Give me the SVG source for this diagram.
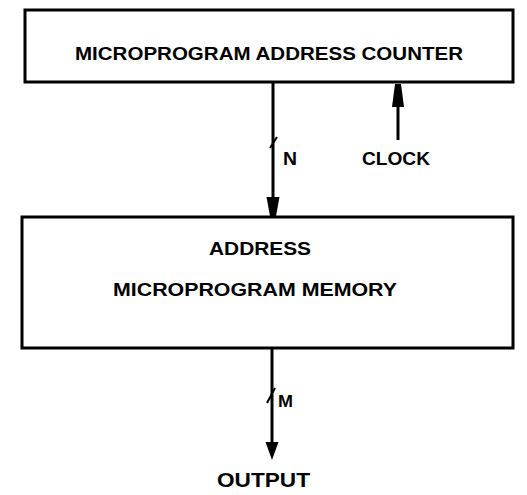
<svg xmlns="http://www.w3.org/2000/svg" width="527" height="495" viewBox="0 0 527 495">
  <style>
    .box { fill: #fff; stroke: #000; stroke-width: 3; }
    .wire { stroke: #000; stroke-width: 3; fill: none; }
    .tick { stroke: #000; stroke-width: 2; fill: none; }
    .head { fill: #000; }
    text { font-family: "Liberation Sans", Arial, sans-serif; font-weight: bold; fill: #000; }
  </style>
  <rect width="527" height="495" fill="#fff"/>

  <g id="address-counter">
    <rect class="box" x="25" y="10" width="488" height="72"/>
    <text x="75" y="60" font-size="19" textLength="388" lengthAdjust="spacingAndGlyphs">MICROPROGRAM ADDRESS COUNTER</text>
  </g>

  <g id="program-memory">
    <rect class="box" x="22" y="217" width="491" height="131"/>
    <text x="209" y="255" font-size="18" textLength="102" lengthAdjust="spacingAndGlyphs">ADDRESS</text>
    <text x="113" y="296" font-size="19" textLength="284" lengthAdjust="spacingAndGlyphs">MICROPROGRAM MEMORY</text>
  </g>

  <g id="clock-label">
    <text x="362" y="165" font-size="19" textLength="68" lengthAdjust="spacingAndGlyphs">CLOCK</text>
  </g>

  <g id="output-label">
    <text x="217" y="487" font-size="21" textLength="93" lengthAdjust="spacingAndGlyphs">OUTPUT</text>
  </g>

  <g id="connectors">
    <!-- N-bit address bus: counter to memory -->
    <line class="wire" x1="273" y1="82" x2="273" y2="200"/>
    <path class="head" d="M266.5,197 L279.5,197 L276,216 L270,216 Z"/>
    <line class="tick" x1="270" y1="148" x2="277" y2="137"/>
    <text x="283" y="165" font-size="18" textLength="14" lengthAdjust="spacingAndGlyphs">N</text>

    <!-- clock input into counter -->
    <line class="wire" x1="398" y1="104" x2="398" y2="140"/>
    <path class="head" d="M392,107 L404,107 L401,84 L395,84 Z"/>

    <!-- M-bit output bus -->
    <line class="wire" x1="272" y1="348" x2="272" y2="445"/>
    <path class="head" d="M265.5,442 L278.5,442 L272,460 Z"/>
    <line class="tick" x1="267" y1="403" x2="275" y2="388"/>
    <text x="278" y="407" font-size="16" textLength="15" lengthAdjust="spacingAndGlyphs">M</text>
  </g>
</svg>
